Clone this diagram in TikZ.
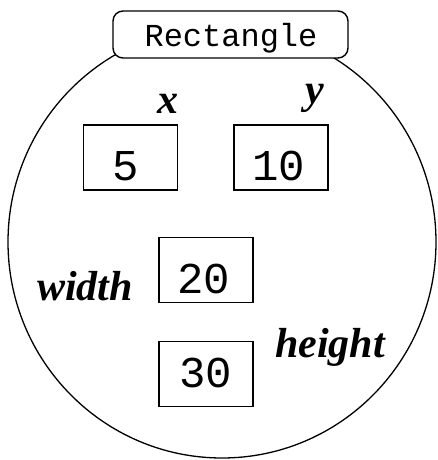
\documentclass[tikz,border=0pt]{standalone}
\usepackage{fontspec}
\setmainfont{Liberation Serif}
\setmonofont{Liberation Mono}
\usetikzlibrary{shapes.geometric}
\tikzset{
  valbox/.style={draw, line width=1.4pt, minimum width=94pt, minimum height=65pt, inner sep=0pt},
  valtext/.style={anchor=base, inner sep=0pt, font=\ttfamily\fontsize{44}{44}\selectfont},
  fieldname/.style={anchor=base, inner sep=0pt, font=\fontsize{42}{42}\selectfont\bfseries\itshape},
}
\begin{document}
\begin{tikzpicture}[x=1pt,y=-1pt]
\useasboundingbox (0,0) rectangle (438,460);
\node[ellipse, draw, line width=1.3pt, minimum width=428pt, minimum height=432pt, inner sep=0pt] (body) at (222,242) {};
\node[draw, fill=white, line width=1.4pt, rounded corners=10pt, minimum width=235pt, minimum height=47pt, inner sep=0pt] (title) at (230.5,34.5) {};
\node[anchor=base, inner sep=0pt, font=\ttfamily\fontsize{32}{32}\selectfont] (titletext) at (231,47) {Rectangle};

\node[valbox] (bx) at (130.5,157.5) {};
\node[valbox] (by) at (281,157.5) {};
\node[valbox] (bw) at (206,270) {};
\node[valbox] (bh) at (206,374) {};

\node[valtext] (vx) at (126,180) {5};
\node[valtext] (vy) at (279,180) {10};
\node[valtext] (vw) at (204,293) {20};
\node[valtext] (vh) at (205.5,387) {30};

\node[fieldname] (lx) at (167.5,113) {x};
\node[fieldname] (ly) at (315,103) {y};
\node[fieldname] (lw) at (85,300) {width};
\node[fieldname] (lh) at (330,357) {height};
\end{tikzpicture}
\end{document}
